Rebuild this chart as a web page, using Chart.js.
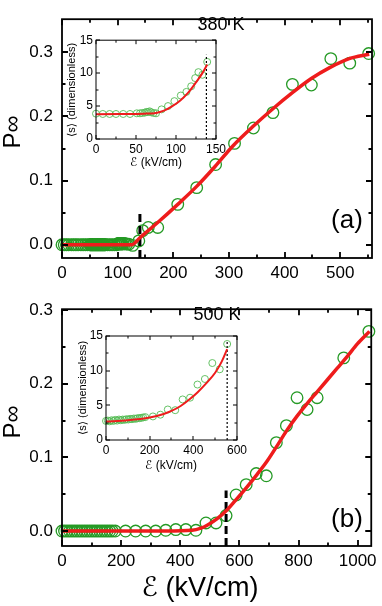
<!DOCTYPE html>
<html lang="en">
<head>
<meta charset="UTF-8">
<title>P∞ vs field, 380 K and 500 K</title>
<script src="https://cdn.jsdelivr.net/npm/chart.js"></script>
<style>
  html, body { margin: 0; padding: 0; background: #fff; }
  #wrap { position: relative; width: 382px; height: 606px; overflow: hidden; }
  #wrap canvas { position: absolute; }
</style>
</head>
<body>
<div id="wrap">
  <canvas id="mainA" width="382" height="290" style="left:0px;top:0px"></canvas>
  <canvas id="mainB" width="382" height="316" style="left:0px;top:290px"></canvas>
  <canvas id="insetA" width="170" height="145" style="left:60px;top:30px"></canvas>
  <canvas id="insetB" width="180" height="155" style="left:70px;top:325px"></canvas>
</div>

<script>
// ---- 380 K : P_inf vs field ----
const fieldA = [0,4,8,12,17,21,25,29,34,38,42,46,50,51,52,53,54,55,56,57,58,59,60,61,62,63,64,65,66,67,68,69,70,71,72,73,74,75,76,77,78,82,86,90,94,98,
                100,101,102,103,104,105,106,107,108,110,113,116,120,127,138,145,155,172,208,242,276,310,344,379,414,448,483,517,551];
const pA = [0,0,0,0,0,0,0,0,0,0,0,0,0,0,0,0,0,0,0,0,0,0,0,0,0,0,0,0,0,0,0,0,0,0,0,0,0,0,0,0,0,0,0,0,0,0,
            0.001,0.002,0.002,0.002,0.002,0.001,0.002,0.002,0.001,0.002,0.002,0.001,0.001,-0.001,0.006,0.022,0.027,0.027,
            0.063,0.089,0.125,0.158,0.182,0.206,0.250,0.249,0.290,0.283,0.298];
const fitFieldA = [0,60,125,140,175,208,242,275,307,344,379,414,448,481,516,552];
const fitPA = [0,0,0,0.011,0.037,0.063,0.091,0.122,0.154,0.185,0.212,0.237,0.259,0.276,0.290,0.297];

// 380 K inset : <s> vs field
const insetFieldA = [0,8.5,17,25,34,42.5,51,55,58,61,63,65,67,69,72,75,82,90,98,106,113,119,124,128,133,139];
const sA = [3.85,3.8,3.8,3.8,3.8,3.8,3.9,3.9,3.95,4.0,4.1,4.1,4.2,4.05,3.95,3.9,4.5,5.0,5.75,6.6,7.15,8.0,9.25,10.15,9.75,11.7];
const insetFitFieldA = [0,30,60,75,85,95,105,115,125,133,139];
const insetFitSA = [3.75,3.8,3.85,3.95,4.3,4.95,5.8,7.0,8.6,10.0,11.3];

// ---- 500 K : P_inf vs field ----
const fieldB = [0,8.5,17,25.5,34,42.5,51,59.5,68,76.5,85,93.5,102,110.5,119,127.5,136,144.5,153,161.5,170,
                180,215,249,283,317,351,385,419,453,487,521,555,589,623,657,691,725,759,795,829,863,953,1038];
const pB = [0,0,0,0,0,0,0,0,0,0,0,0,0,0,0,0,0,0,0,0,0,
            0,0,0,0,0,0.001,0.002,0.002,0.001,0.011,0.011,0.021,
            0.049,0.063,0.078,0.075,0.120,0.143,0.181,0.165,0.181,0.235,0.271];
const fitFieldB = [0,350,440,470,491,525,559,592,626,660,694,728,761,795,829,863,897,931,965,999,1040];
const fitPB = [0,0,0.001,0.004,0.008,0.017,0.029,0.044,0.060,0.077,0.095,0.116,0.137,0.156,0.173,0.189,0.205,0.221,0.237,0.254,0.271];

// 500 K inset
const insetFieldB = [0,8.5,17,25.5,34,42.5,51,59.5,68,76.5,85,93.5,102,110.5,119,127.5,136,144.5,153,161.5,170,
                     180,215,249,283,317,351,385,419,453,487,521,555];
const sB = [2.75,2.8,2.7,2.85,2.75,2.9,2.8,2.95,2.85,2.95,2.9,3.0,2.95,3.05,3.0,3.1,3.05,3.15,3.15,3.2,3.25,
            3.3,3.4,3.65,4.4,4.3,5.85,6.1,8.0,8.8,11.1,10.2,13.85];
const insetFitFieldB = [0,100,200,264,300,342,380,420,460,500,530,555];
const insetFitSB = [2.65,2.85,3.25,3.76,4.2,4.9,5.8,6.9,8.2,9.7,11.3,13.1];

// thresholds (dashed / dotted markers)
const thresholdA = 140, thresholdB = 555;
const insetThresholdA = 138, insetThresholdB = 555;

// ticks
const xTicksA = [0,100,200,300,400,500], xMinorA = [50,150,250,350,450,550];
const xTicksB = [0,200,400,600,800,1000], xMinorB = [100,300,500,700,900];
const yTicksMain = [0,0.1,0.2,0.3], yMinorMain = [0.05,0.15,0.25];
const xTicksInsetA = [0,50,100,150], xMinorInsetA = [25,75,125];
const xTicksInsetB = [0,200,400,600], xMinorInsetB = [100,300,500];
const yTicksInset = [0,5,10,15], yMinorInset = [2.5,7.5,12.5];

const FONT = '"Liberation Sans", "DejaVu Sans", sans-serif';
const RED = '#ee1c1c';
const GREEN = '#259a25';
const GREEN_LIGHT = '#55bb55';

function pts(xs, ys) { return xs.map((v, i) => ({x: v, y: ys[i]})); }

// frame box with inward ticks on all four sides
const framePlugin = {
    id: 'frame',
    afterDatasetsDraw(chart, args, o) {
        const {ctx, chartArea: a} = chart;
        const sx = chart.scales.x, sy = chart.scales.y;
        ctx.save();
        ctx.strokeStyle = '#000';
        ctx.lineWidth = o.lw;
        ctx.strokeRect(a.left, a.top, a.right - a.left, a.bottom - a.top);
        const xt = (vals, len) => vals.forEach(v => {
            const p = Math.round(sx.getPixelForValue(v));
            ctx.beginPath();
            ctx.moveTo(p, a.bottom); ctx.lineTo(p, a.bottom - len);
            ctx.moveTo(p, a.top); ctx.lineTo(p, a.top + len);
            ctx.stroke();
        });
        const yt = (vals, len) => vals.forEach(v => {
            const p = Math.round(sy.getPixelForValue(v));
            ctx.beginPath();
            ctx.moveTo(a.left, p); ctx.lineTo(a.left + len, p);
            ctx.moveTo(a.right, p); ctx.lineTo(a.right - len, p);
            ctx.stroke();
        });
        xt(o.xMajor, o.major); xt(o.xMinor, o.minor);
        yt(o.yMajor, o.major); yt(o.yMinor, o.minor);
        ctx.restore();
    }
};

// free text (labels, axis titles)
const notesPlugin = {
    id: 'notes',
    afterDraw(chart, args, o) {
        const ctx = chart.ctx;
        (o.items || []).forEach(t => {
            ctx.save();
            ctx.font = t.font;
            ctx.fillStyle = '#000';
            ctx.textAlign = 'center';
            ctx.textBaseline = 'middle';
            ctx.translate(t.x, t.y);
            if (t.rot) ctx.rotate(t.rot);
            ctx.fillText(t.text, 0, 0);
            ctx.restore();
        });
    }
};

function makePanel(id, c) {
    return new Chart(document.getElementById(id), {
        type: 'scatter',
        data: {
            datasets: [
                { data: pts(c.fitX, c.fitY), showLine: true, borderColor: RED, borderWidth: c.fitWidth,
                  pointRadius: 0, cubicInterpolationMode: 'monotone' },
                { data: pts([c.thr, c.thr], c.thrSpan), showLine: true, borderColor: '#000',
                  borderWidth: c.thrWidth, borderDash: c.thrDash, pointRadius: 0 },
                { data: pts(c.x, c.y), pointRadius: c.r, pointBorderWidth: c.rw, borderColor: c.green,
                  backgroundColor: 'rgba(0,0,0,0)', clip: false }
            ]
        },
        options: {
            responsive: false,
            animation: false,
            events: [],
            layout: { padding: c.pad },
            plugins: {
                legend: { display: false },
                tooltip: { enabled: false },
                frame: { lw: c.frameWidth, major: c.major, minor: c.minor,
                         xMajor: c.xTicks, xMinor: c.xMinor, yMajor: c.yTicks, yMinor: c.yMinor },
                notes: { items: c.notes }
            },
            scales: {
                x: {
                    type: 'linear', min: c.xRange[0], max: c.xRange[1],
                    grid: { display: false, drawTicks: false }, border: { display: false },
                    afterBuildTicks: s => { s.ticks = c.xTicks.map(v => ({value: v})); },
                    afterFit: s => { s.height = c.xH; },
                    ticks: { color: '#000', font: { family: FONT, size: c.tickSize }, padding: c.xPad,
                             autoSkip: false, maxRotation: 0, callback: v => String(v) }
                },
                y: {
                    type: 'linear', min: c.yRange[0], max: c.yRange[1],
                    grid: { display: false, drawTicks: false }, border: { display: false },
                    afterBuildTicks: s => { s.ticks = c.yTicks.map(v => ({value: v})); },
                    afterFit: s => { s.width = c.yW; },
                    ticks: { color: '#000', font: { family: FONT, size: c.tickSize }, padding: c.yPad,
                             autoSkip: false, callback: c.yFmt }
                }
            }
        },
        plugins: [framePlugin, notesPlugin]
    });
}

const mainStyle = { fitWidth: 3.5, thrWidth: 3, thrDash: [8, 4], r: 5.8, rw: 1.3, green: GREEN,
                    frameWidth: 1.8, major: 6, minor: 3.5, tickSize: 17, xPad: 5, yPad: 9, yW: 62,
                    yTicks: yTicksMain, yMinor: yMinorMain, yFmt: v => v.toFixed(1) };
const insetStyle = { fitWidth: 2, thrWidth: 1.2, thrDash: [2, 2], r: 3.5, rw: 0.9, green: GREEN_LIGHT,
                     frameWidth: 1, major: 4, minor: 2.5, tickSize: 12, xPad: 3, yPad: 3, yW: 36,
                     yTicks: yTicksInset, yMinor: yMinorInset, yFmt: v => String(v) };

makePanel('mainA', Object.assign({}, mainStyle, {
    x: fieldA, y: pA, fitX: fitFieldA, fitY: fitPA, thr: thresholdA, thrSpan: [-0.0206, 0.048],
    xRange: [0, 557], yRange: [-0.0206, 0.3515], xTicks: xTicksA, xMinor: xMinorA,
    pad: { left: 0, right: 10, top: 5, bottom: 0 }, xH: 32,
    notes: [
        { text: '380 K', x: 221, y: 25, font: '18px ' + FONT },
        { text: '(a)', x: 347, y: 221, font: '26px ' + FONT },
        { text: 'P∞', x: 13, y: 132, rot: -Math.PI / 2, font: '24px ' + FONT }
    ]
}));

makePanel('mainB', Object.assign({}, mainStyle, {
    x: fieldB, y: pB, fitX: fitFieldB, fitY: fitPB, thr: thresholdB, thrSpan: [-0.0203, 0.055],
    xRange: [0, 1046], yRange: [-0.0203, 0.3011], xTicks: xTicksB, xMinor: xMinorB,
    pad: { left: 0, right: 10, top: 3, bottom: 0 }, xH: 60,
    notes: [
        { text: '500 K', x: 217, y: 25, font: '18px ' + FONT },
        { text: '(b)', x: 347, y: 230, font: '26px ' + FONT },
        { text: 'P∞', x: 13, y: 132, rot: -Math.PI / 2, font: '24px ' + FONT },
        { text: 'ℰ (kV/cm)', x: 200, y: 299, font: '27px ' + FONT }
    ]
}));

makePanel('insetA', Object.assign({}, insetStyle, {
    x: insetFieldA, y: sA, fitX: insetFitFieldA, fitY: insetFitSA, thr: insetThresholdA, thrSpan: [0, 12.8],
    xRange: [0, 150], yRange: [0, 15], xTicks: xTicksInsetA, xMinor: xMinorInsetA,
    pad: { left: 0, right: 14, top: 10, bottom: 0 }, xH: 36,
    notes: [
        { text: '⟨s⟩ (dimensionless)', x: 12, y: 60, rot: -Math.PI / 2, font: '11px ' + FONT },
        { text: 'ℰ (kV/cm)', x: 96, y: 133, font: '12px ' + FONT }
    ]
}));

makePanel('insetB', Object.assign({}, insetStyle, {
    x: insetFieldB, y: sB, fitX: insetFitFieldB, fitY: insetFitSB, thr: insetThresholdB, thrSpan: [0, 14.3],
    xRange: [0, 600], yRange: [0, 15], xTicks: xTicksInsetB, xMinor: xMinorInsetB,
    pad: { left: 0, right: 13, top: 11, bottom: 0 }, xH: 40,
    notes: [
        { text: '⟨s⟩ (dimensionless)', x: 13, y: 63, rot: -Math.PI / 2, font: '11px ' + FONT },
        { text: 'ℰ (kV/cm)', x: 101, y: 141, font: '12px ' + FONT }
    ]
}));
</script>
</body>
</html>
